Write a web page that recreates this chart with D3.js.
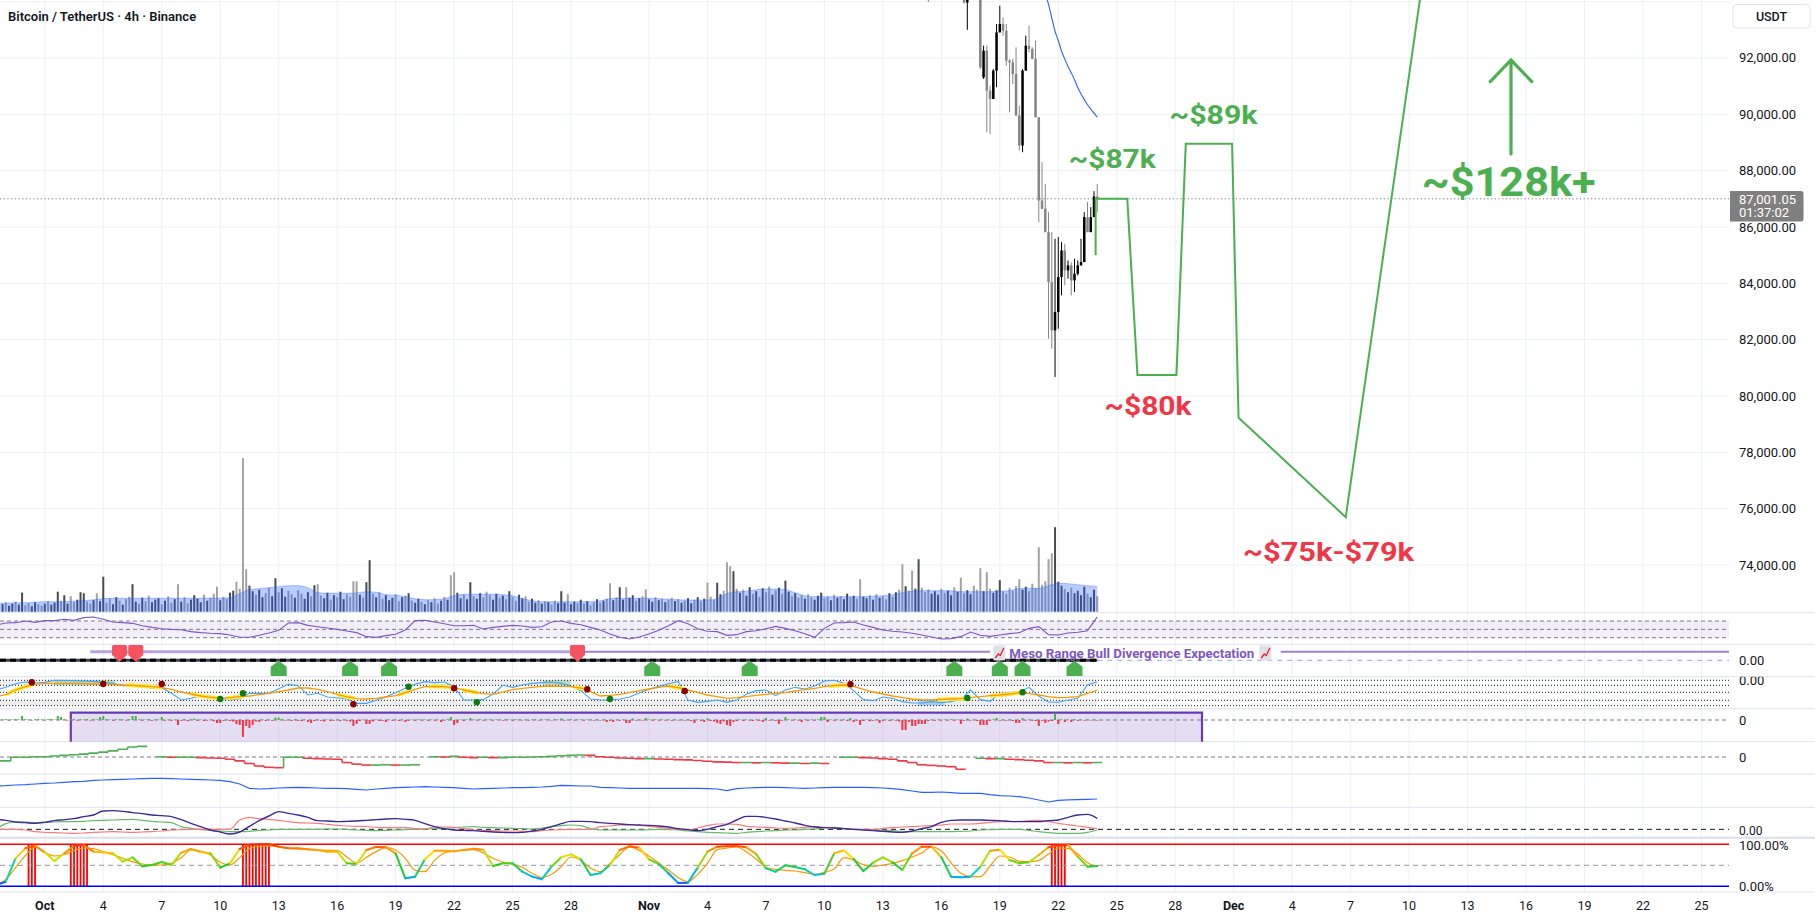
<!DOCTYPE html>
<html><head><meta charset="utf-8">
<script src="https://cdn.jsdelivr.net/npm/d3@7"></script>
<style>
html,body{margin:0;padding:0;background:#fff;overflow:hidden}
svg{display:block;font-family:Roboto,"Noto Sans",sans-serif}
</style></head><body>
<svg id="chart" width="1815" height="919"></svg>
<script>
// ================= DATA =================
const title = "Bitcoin / TetherUS · 4h · Binance";
const quoteUnit = "USDT";
const lastPrice = 87001.05, countdown = "01:37:02";
const priceTicks = [74000,76000,78000,80000,82000,84000,86000,88000,90000,92000];
const tickDates = ["2025-10-01","2025-10-04","2025-10-07","2025-10-10","2025-10-13","2025-10-16","2025-10-19","2025-10-22","2025-10-25","2025-10-28",
  "2025-11-01","2025-11-04","2025-11-07","2025-11-10","2025-11-13","2025-11-16","2025-11-19","2025-11-22","2025-11-25","2025-11-28",
  "2025-12-01","2025-12-04","2025-12-07","2025-12-10","2025-12-13","2025-12-16","2025-12-19","2025-12-22","2025-12-25"];
const tickLabels = ["Oct","4","7","10","13","16","19","22","25","28","Nov","4","7","10","13","16","19","22","25","28","Dec","4","7","10","13","16","19","22","25"];

// 4h candles from 2025-11-15 04:00 UTC to 2025-11-24 00:00 UTC
const candleStart = "2025-11-15T04:00:00Z";
const candleOpen  = [95300,95100,94300,95000,95500,95800,95600,95200,95400,95700,95300,94900,94500,93970,94600,95000,94800,94600,91314,92260,90841,90546,91551,92910,93206,92969,91905,91846,91433,89955,88891,91551,92437,92319,91964,89896,86941,86645,85818,84045,82331,82981,84222,85168,84459,84636,84104,84340,84636,84754,86350,85818,86350,87083];
const candleHigh  = [95800,95400,95200,95700,96000,96200,95900,95600,96000,96100,95600,95300,94700,94800,95300,95400,95000,94800,92437,92437,91019,91610,93206,93856,93442,93206,91964,91964,92378,90310,91610,92792,93146,92378,92614,89896,88300,87532,86527,85818,85582,85641,85463,85404,84813,84754,84872,84813,85582,86527,86882,86705,87272,87530];
const candleLow   = [94900,93990,94150,94800,95100,95300,95000,94700,95100,95000,94600,94300,93930,93000,94200,94500,94300,91610,91255,89364,89305,90546,90960,92910,92792,91728,90073,91078,89955,88714,88655,91551,92201,91964,89896,86173,86645,85818,82036,81681,80676,82390,83572,83927,84163,83572,83690,84281,84636,84754,85818,85818,86350,86525];
const candleClose = [95100,94300,95000,95500,95800,95600,95200,95400,95700,95300,94900,94500,93970,94600,95000,94800,94600,91669,92260,90841,90546,91551,92910,93206,92969,91905,91846,91433,89955,88891,91551,92437,92319,91964,89896,86941,86645,85818,84045,82331,82981,84222,85168,84459,84636,84104,84340,84636,84754,86350,85818,86350,87083,87001];

// blue moving average on price (4h, from 2025-11-21 08:00)
const maStart = "2025-11-21T08:00:00Z";
const maValues = [94300,93900,93420,92950,92620,92250,91960,91700,91470,91230,90950,90720,90530,90340,90190,90040,89900];

// projected path
const projDates  = ["2025-11-23T22:00:00Z","2025-11-23T22:00:00Z","2025-11-25T13:00:00Z","2025-11-26T01:30:00Z","2025-11-28T01:30:00Z","2025-11-28T13:00:00Z","2025-11-30T22:00:00Z","2025-12-01T06:00:00Z","2025-12-06T18:00:00Z","2025-12-17T14:00:00Z"];
const projPrices = [85000,87000,87000,80750,80750,88960,88960,79230,75700,128000];

// annotations
const annText  = ["~$87k","~$89k","~$80k","~$75k-$79k","~$128k+"];
const annDate  = ["2025-11-22T13:00:00Z","2025-11-27T17:00:00Z","2025-11-24T09:00:00Z","2025-12-01T11:30:00Z","2025-12-10T15:30:00Z"];
const annPrice = [88095,89646,79311,74142,87101];
const annColor = ["#4caf50","#4caf50","#f23645","#f23645","#4caf50"];
const annSize  = [25,25,25,25,41];
const annWidth = [87,88,87,171,174];
const arrowDate = "2025-12-15T05:30:00Z", arrowFrom = 88592, arrowTo = 91929;

// 4h volume (thousand BTC) from 2025-09-28 20:00, u = up bar, d = down bar
const barStart = "2025-09-28T20:00:00Z";
const volume = [1.5,1.9,1.2,1.6,2.0,1.4, 3.8,1.3,1.7,1.1,1.9,1.5, 1.2,1.6,2.1,1.4,1.8,4.0, 2.2,3.3,1.6,3.1,1.9,2.4, 3.9,3.7,2.0,1.6,2.3,3.7,
 2.1,7.0,1.8,2.6,1.5,2.9, 2.2,1.4,2.5,3.0,5.5,2.0, 1.6,2.8,2.1,3.2,1.9,2.4, 2.7,1.5,2.2,3.1,1.8,2.5, 5.5,2.0,2.9,1.7,2.4,3.3,
 2.6,1.9,3.4,2.2,2.8,3.6, 5.0,2.3,3.0,2.5,3.8,4.2, 6.0,4.6,30.7,8.5,5.2,4.1, 3.4,4.4,2.9,3.7,4.8,3.1, 6.7,3.9,4.7,3.0,4.2,3.5,
 2.8,4.3,3.6,2.6,3.9,3.1, 5.3,5.5,3.2,2.7,3.8,2.4, 3.3,2.9,4.0,2.5,3.5,3.0, 6.1,6.1,3.4,2.8,5.9,10.3, 3.6,2.9,3.9,2.6,3.3,2.3,
 2.8,3.5,2.1,2.9,3.2,3.7, 2.2,1.8,2.6,2.0,1.5,2.3, 1.9,2.7,1.6,2.2,3.0,2.4, 7.3,7.9,3.8,2.7,3.4,2.5, 5.9,3.1,2.6,3.7,2.9,4.0,
 3.3,2.4,3.6,2.8,3.2,2.5, 4.1,3.0,2.2,3.4,2.7,3.1, 2.0,2.6,1.8,2.3,1.6,2.1, 1.9,1.4,2.2,1.7,4.1,1.8, 3.5,1.5,2.0,1.7,2.4,1.6,
 2.1,1.3,1.9,2.5,1.8,2.2, 2.6,5.7,2.3,2.9,4.9,2.4, 4.9,2.8,3.3,2.2,2.7,3.1, 4.5,2.5,2.0,2.9,2.3,2.6, 1.9,2.4,2.8,2.1,2.5,1.8,
 2.2,2.7,1.7,2.4,2.9,2.1, 2.6,5.8,3.0,2.4,5.8,3.5, 4.2,9.9,9.1,8.1,4.6,3.8, 4.4,3.2,4.9,3.6,4.1,3.0, 4.7,3.9,5.0,3.4,4.3,4.8,
 3.6,6.2,4.0,3.1,3.7,2.8, 3.3,2.6,3.5,2.9,2.4,3.2, 3.8,2.7,3.0,2.3,3.4,2.8, 3.1,2.5,3.6,2.9,3.2,2.6, 6.5,3.0,2.7,3.3,2.4,3.5,
 2.8,3.1,2.5,3.7,3.0,3.9, 4.4,9.5,5.1,4.2,8.2,4.6, 10.5,4.8,3.9,4.5,3.6,4.1, 3.4,4.6,3.8,4.2,3.3,4.9, 4.0,6.8,3.7,4.3,3.5,5.2,
 4.4,8.7,4.1,7.9,4.6,3.8, 4.3,6.3,4.0,3.6,4.8,4.2, 5.1,6.5,4.4,5.0,4.1,5.6, 4.7,12.9,5.4,6.1,10.5,11.7, 16.9,6.0,5.2,4.5,3.9,4.8,
 3.7,4.2,3.3,5.0,3.6,2.9, 4.4,3.1];
const volumeDir = ["uduudu","udduud","duduuu","duuddu","uuddud","uudduu","dudduu","dudduu","ududdu","dudduu","uududd","dudduu","dddduu","duuddu","uduudd","udduud","udduud","uduudd","dduduu","dudduu","uddudu","duudud","uddudu","dduudu","uduudd","duudud","udduud","duudud","udduuu","duudud","uddudu","dduduu","duudud","duudud","uddudu","duudud","uddduu","dddudu","duudud","uddudu","duudud","dudduu","uddudu","duudud","duudud","uddudu","dduddu","uddduu","udduud","udduud","dduddu","uudddd","dduudd","dddddd","uuudud","uuuudu","ud"].join("");

// 12h series from 2025-09-28 12:00
const lineStart = "2025-09-28T12:00:00Z";
const volumeMA = [1.7,1.7,1.8,1.8,1.9,2,2,2,2.1,2.2, 2.4,2.6,2.68,2.68,2.68,2.68,2.7,2.7,2.7,2.68, 2.68,2.68,2.68,2.7,2.8,3.6,4.4,4.6,4.8,5, 5.2,5.2,4.8,3.8,3.7,3.68,3.68,3.76,4,3.9,
 3.4,3.3,3,2.6,2.4,2.4,2.6,3.2,3.48,3.48, 3.48,3.48,3.4,3.2,2.6,2.2,2,2,2,2, 2,2,2.2,2.6,2.68,2.68,2.68,2.68,2.6,2.5, 2.4,2.34,2.34,2.34,2.6,3.6,4,4.1,4.4,4.54,
 4.54,4.4,3.8,3.2,3,3,3,3,3,3, 3.1,3.2,3.4,3.8,4.1,4.2,4.2,4.2,4.2,4, 4,4,4,4.1,4.2,4.6,4.68,4.68,5.2,5.68, 5.6,5.4,5.2,5];
const rsi = [60.4,65.2,66.0,70.0,66.8,70.8,70.8,74.0,71.6,78.0, 79.6,74.0,67.6,66.0,64.4,58.8,54.8,51.6,50.0,49.2, 44.5,42.1,40.5,39.7,36.5,30.9,30.9,35.7,41.3,47.6,
 65.2,66.0,59.6,56.4,53.2,50.0,46.0,42.1,32.5,30.9, 34.9,38.1,48.4,70.8,71.6,67.6,63.6,58.8,58.8,59.6, 50.8,54.8,57.2,59.6,58.0,54.8,56.4,67.6,70.0,64.4,
 61.2,54.8,48.4,38.9,30.9,26.9,31.7,38.9,47.6,58.8, 70.8,63.6,51.6,45.3,44.5,35.7,37.3,44.5,46.8,51.6, 57.2,52.4,46.8,39.7,30.9,52.4,65.2,66.0,67.6,60.4,
 54.8,48.4,45.3,43.7,40.5,36.5,31.7,26.9,27.7,32.5, 43.7,35.7,33.3,36.5,39.7,42.1,52.4,56.4,37.3,36.5, 41.3,42.9,46.8,80.0];
const rsiLevels = [70,50,30];

// signal pane
const mesoSegments = [["2025-10-03T08:00:00Z","2025-10-28T08:00:00Z"],["2025-10-28T08:00:00Z","2025-11-18T12:00:00Z"],["2025-12-03T10:00:00Z","2025-12-26T12:00:00Z"]];
const mesoLabel = "Meso Range Bull Divergence Expectation";
const mesoLabelDate = "2025-11-18T16:00:00Z";
const bearSignals = ["2025-10-04T20:00:00Z","2025-10-05T16:00:00Z","2025-10-28T08:00:00Z"];
const bullSignals = ["2025-10-13T00:00:00Z","2025-10-16T16:00:00Z","2025-10-18T16:00:00Z","2025-11-01T04:00:00Z","2025-11-06T04:00:00Z","2025-11-16T16:00:00Z","2025-11-19T00:00:00Z","2025-11-20T04:00:00Z","2025-11-22T20:00:00Z"];

// oscillator pane (blue fast / orange slow)
const oscLevels = [100,80.3,52.8,21.3,0];
const oscFast = [61.8,72.3,86.7,93.3,89.4,92,99.9,99.9,98.6,97.2, 95.9,92,88,78.9,80.2,77.6,68.4,71,48.7,22.4, 29,39.5,38.2,29,22.4,27.7,48.7,48.7,48.7,67.1,
 84.1,78.9,42.1,48.7,34.3,31.6,26.4,9.3,9.3,21.1, 35.6,51.3,68.4,84.1,94.6,90.7,93.3,74.9,22.4,22.4, 23.8,46.1,80.2,72.3,81.5,88,90.7,93.3,88,77.6,
 59.2,26.4,22.4,22.4,26.4,34.3,50,64.4,76.2,86.7, 95.9,22.4,13.3,17.2,22.4,13.3,22.4,44.8,59.2,61.8, 39.5,61.8,72.3,65.7,77.6,97.2,99.9,88,59.2,23.8,
 19.8,34.3,29,15.9,10.6,10.6,15.9,11.9,15.9,25, 61.8,23.8,17.2,48.7,51.3,55.2,72.3,38.2,14.4,13.3, 22.4,29,81.5,94.6];
const oscSlow = [35.6,43.4,61.8,74.9,84.1,88,88,88,88,86.7, 85.4,85.4,84.1,81.5,80.2,77.6,74.9,71,64.4,53.9, 46.1,38.2,33,29,31.6,35.6,38.2,43.4,48.7,55.2,
 61.8,69.7,69.7,64.4,55.2,44.8,34.3,27.7,26.4,29, 34.3,39.5,51.3,64.4,74.9,76.2,74.9,71,61.8,53.9, 47.4,44.8,53.9,63.1,68.4,72.3,76.2,77.6,76.2,74.9,
 69.7,55.2,38.2,40.8,44.8,51.3,59.2,65.7,72.3,77.6, 71,61.8,52.6,42.1,35.6,29,31.6,35.6,40.8,44.8, 48.7,51.3,57.9,63.1,68.4,74.9,78.9,81.5,76.2,64.4,
 53.9,46.1,38.2,31.6,26.4,23.8,22.4,25,26.4,27.7, 31.6,35.6,39.5,42.1,46.1,51.3,47.4,42.1,35.6,31.6, 33,35.6,48.7,61.8];
const oscHighlight = [["2025-09-29T02:00:00Z","2025-09-30T09:00:00Z"],["2025-10-05T04:00:00Z","2025-10-07T01:00:00Z"],["2025-10-08T12:00:00Z","2025-10-10T00:00:00Z"],["2025-10-10T07:00:00Z","2025-10-11T05:00:00Z"],["2025-10-16T00:00:00Z","2025-10-16T22:00:00Z"],["2025-10-19T03:00:00Z","2025-10-19T17:00:00Z"],["2025-10-20T17:00:00Z","2025-10-22T01:00:00Z"],["2025-10-22T11:00:00Z","2025-10-23T05:00:00Z"],["2025-10-28T04:00:00Z","2025-10-28T22:00:00Z"],["2025-11-02T01:00:00Z","2025-11-02T21:00:00Z"],["2025-11-10T07:00:00Z","2025-11-11T10:00:00Z"],["2025-11-15T19:00:00Z","2025-11-17T06:00:00Z"],["2025-11-18T12:00:00Z","2025-11-20T06:00:00Z"]];
const oscTopFill = [["2025-10-01T11:00:00Z","2025-10-04T14:00:00Z"],["2025-10-26T13:00:00Z","2025-10-27T23:00:00Z"]];
const oscBottomFill = [["2025-11-14T19:00:00Z","2025-11-16T04:00:00Z"]];
const oscBearDots = [["2025-09-30T08:00:00Z",92.1],["2025-10-04T00:00:00Z",85.4],["2025-10-07T00:00:00Z",85.4],["2025-10-16T20:00:00Z",5.5],["2025-10-22T00:00:00Z",68.5],["2025-10-28T20:00:00Z",64.6],["2025-11-02T20:00:00Z",57.9],["2025-11-11T08:00:00Z",84.3]];
const oscBullDots = [["2025-10-10T00:00:00Z",26.4],["2025-10-11T04:00:00Z",48.8],["2025-10-19T16:00:00Z",74.8],["2025-10-23T04:00:00Z",13.4],["2025-10-30T00:00:00Z",26.4],["2025-11-17T08:00:00Z",30.3],["2025-11-20T04:00:00Z",52.8]];

// histogram pane (4h)
const histBox = ["2025-10-02T08:00:00Z","2025-11-29T09:00:00Z"];
const histBoxTop = 7.3;
const hist = [0.5,0.8,-0.5,0.6,1,0.5, 4,0.8,0.5,-0.5,0.7,1, 0.6,-0.4,0.8,1,0.5,4, 3,0.8,-0.5,0.6,0.9,-0.6, 0.7,0.5,1,-0.5,0.8,0.6,
 3,4,0.8,0.5,-0.6,0.7, 1,0.6,-0.5,0.8,4,4, 0.7,-0.6,0.5,0.9,-0.8,0.6, 0.5,3,-0.7,0.6,-1,0.5, -5,-0.8,0.6,-1.2,0.5,1.5,
 -0.8,0.5,-1,-0.6,0.7,-1.2, -3,-3,-0.8,0.5,-1,-1.5, -4,-5,-17,-6,-8,-5, -1.5,-2,0.6,-1,0.5,-0.8, 2.5,2.5,0.8,-0.6,0.5,-1,
 0.6,-0.8,-1.2,0.5,-2,-3, -1,0.6,-0.8,-1.5,0.5,-1, -0.7,0.5,-1.2,0.6,-0.8,-1.5, -6,-4,-1,0.5,-4,-4, -1.5,0.6,-1,-0.8,-2,0.5,
 -0.8,0.6,-1,0.5,-2,-0.7, 0.5,-0.6,0.8,-0.5,0.6,-0.8, 0.6,-0.7,0.5,-2,-0.6,0.8, 3,-5,-3,0.6,-0.8,0.5, 2,0.6,-0.5,0.8,-0.6,0.5,
 0.7,-0.5,0.6,0.5,-0.7,0.8, 0.5,-0.6,0.7,0.5,-0.5,0.6, -0.6,0.5,0.8,-0.5,0.6,0.5, 0.6,-0.5,0.7,0.5,1.5,-0.6, 0.5,0.7,-0.5,0.6,0.5,-0.6,
 0.6,0.5,-0.7,0.5,-0.6,0.5, -2,-0.6,-2,0.5,-0.8,0.5, -3,-3,1.5,-0.6,0.5,-0.7, 2,0.5,-0.6,0.7,-0.5,0.6, -0.6,0.5,-0.8,0.6,-0.5,0.5,
 -0.7,0.5,-1,-3,0.6,-0.8, -2,1.5,-1,-1.5,-3,-4, -1.5,-5,-6,-2,-1,0.5, -0.8,0.6,-0.5,-1,0.5,-0.7, -2,2,-0.6,0.5,-1,-4,
 -0.8,3,0.6,-0.5,0.7,-0.6, -2,0.5,-0.8,0.6,-0.5,0.7, 3,3,-2,0.5,-0.7,0.6, -0.5,0.7,-0.8,2,-2,-0.6, -5,-1,0.5,-1.2,-0.8,0.6,
 -3,-0.8,0.5,-1,0.6,-0.7, -1.5,-10,-10,-2,-6,-6, -4,-4,-4,-1,0.6,-0.8, 0.5,-0.7,0.6,-0.5,0.8,-0.6, 0.5,-4,-0.8,1.5,-0.6,0.5,
 -1,-5,-5,-5,-0.8,0.6, 2,-0.7,0.5,-0.8,0.6,-1, -3,-3,2,-0.6,0.5,-0.8, -1,-6,-0.8,-3,-1.5,-1, 7,-4,0.6,-2,0.5,-2,
 1,-0.8,0.5,-0.7,0.6,-0.5, 0.5,-0.6];

// cumulative step pane (12h, null = reset)
const flow = [-12,-12,-1,-1,1,1,3,5,7,9, 12,15,19,24,31,33,null,1,-1,-1, -1,-2,-3,-4,-7,-12,-20,-28,-32,-33, -1,-1,-4,-5,-6,-7,-17,-22,-25,-25,
 -24,-25,-25,-24,null,1,0,2,-1,-2, -1,-2,-2,-1,-1,0,1,2,4,5, 6,5,1,-1,-3,-4,-5,-5,-6,-7, -8,-9,-11,-13,-15,-16,-17,-17,-18,-17,
 -18,-19,-19,-20,-19,-20,null,-1,-1,-2, -3,-5,-7,-12,-17,-24,-26,-28,-30,-38, null,-4,-5,-5,-7,-8,-10,-12,-17,-17, -18,-17,-18,-17];

// blue line pane (12h)
const trendLine = [64,65,67,68,70,72,73,75,77,78, 81,82,83,84,85,86,87,87,86,85, 84,83,82,81,77,70,57,55,56,58, 59,60,59,58,57,57,56,54,52,55,
 57,59,60,61,62,61,60,59,57,55, 56,57,58,59,59,60,61,63,66,65, 64,64,60,59,58,57,57,57,57,57, 57,57,57,56,55,50,56,58,59,60,
 60,59,58,57,58,59,60,60,60,60, 59,58,56,53,49,45,45,46,44,42, 42,42,38,35,34,32,28,22,16,21, 22,23,24,25];

// DMI pane (12h)
const adx = [32,30.8,28.8,28,27.2,28.4,30.4,31.6,32.8,35.2, 37.2,42,42.4,41.6,40,38.8,37.2,36.4,35.2,31.6, 27.2,23.2,19.2,16.8,14.4,16.8,23.6,30.4,36,41.2,
 39.2,37.2,34.4,30.4,30,29.2,29.6,30,30.8,31.6, 32.4,32.8,32,30.8,26.8,23.2,20.8,19.2,18.8,18.4, 17.6,16.8,16.4,16,16.4,18,20,23.2,26.8,29.6,
 29.6,29.2,28,27.2,26.4,25.6,25.2,24.8,24,22.8, 20.8,19.6,18.4,20,23.2,26,31.2,35.6,35.6,34.4, 32.4,30,27.6,24.8,22.8,22,21.6,20.8,20,19.2,
 18.4,17.6,16.8,16.4,18,20.8,23.2,28.4,30.8,31.2, 31.2,31.2,30.8,30.4,29.6,29.2,29.2,29.2,30.4,31.2, 34.4,37.2,38,33.2];
const diMinus = [20,20,20,19.2,17.2,16.4,16,15.6,15.2,15.6, 16.4,16.8,17.2,16.8,16.4,16.8,17.2,18,19.2,19.6, 20,20,20,20,20,31.2,34.4,32.8,32,30.8,
 29.2,28,27.6,27.2,26,24.8,24,23.6,23.2,22.4, 22,22,22,20.8,20.4,22.8,22.8,22.4,21.2,19.2, 18.8,18.4,18,18,17.6,17.2,18.4,19.2,19.6,20,
 20,20,23.2,24,25.2,25.2,24.8,23.6,22.4,21.2, 20.4,19.2,21.6,24.4,26.4,26.4,26,23.6,22.8,22.4, 21.6,21.2,21.6,22.4,23.2,22.4,21.6,20.8,20,20,
 20,21.2,22,22.8,23.2,24,24.4,25.2,26.4,26.4, 26.4,27.2,28.4,29.2,29.2,29.6,30.4,30.8,29.2,27.2, 25.6,24,22.4,20.8];
const diPlus = [20,26.8,28.8,28.8,28,28.4,28.8,29.2,29.2,29.6, 30.4,30.8,31.2,31.6,32,30.8,29.6,28.8,28,23.2, 21.2,19.6,18.8,18,17.2,17.2,17.6,18.8,19.2,20,
 20,20,20,20,20.4,20.4,20,19.2,18.8,18.4, 18.8,19.2,19.6,20,20.4,20.8,21.2,22,22.8,23.2, 22.4,22,21.6,21.2,20.8,20.4,21.6,23.2,24.4,25.2,
 24.4,21,19.2,19.2,19.2,19.2,19.2,19.6,20,19.6, 19.2,18,17.2,16.4,16,15.6,15.2,16.4,17.2,18, 18.4,19.2,19.2,20,20.4,22,22.4,21.2,20,19.6,
 19.2,18.8,18.4,17.6,17.2,17.2,17.2,17.2,17.2,17.6, 18,19.2,19.6,20,20,20,18.8,17.2,16,15.2, 15.2,15.2,16.4,19.2];
const dmiLevel = 20;

// Stoch RSI pane (12h)
const stochK = [3,11,66.6,90.4,96.7,80.9,60.2,78.5,96.7,98.3, 82.5,80.9,78.5,58.7,69,47.5,50.7,57.9,50.7,80, 88.8,81.7,78.5,44.4,54.7,88.8,99,100,100,94.4,
 90.4,90.4,88,86.4,82.5,82.5,54.7,53.1,86.4,93.6, 92.8,78.5,19,23,64.2,84.8,84.8,83.3,86.4,89.6, 87.2,48.3,54.7,54.7,34.8,23,16.6,46.7,69,76.1,
 64.2,26.9,30.9,50.7,86.4,95.2,92,64.2,53.1,30.9, 7.9,8.7,44.4,82.5,94.4,95.2,96,92.8,76.9,42.8, 34.8,49.9,45.9,40.4,26.9,30.1,78.5,85.6,65,36.4,
 56.3,69,57.1,38.8,78.5,94.4,94.4,69,23,21.4, 23,46.7,84.8,87.2,62.6,54.7,57.1,74.5,92.8,96.7, 98.3,70.6,46.7,48.3];
const stochD = [3,16.6,44.4,72.9,93.6,80.9,72.1,75.3,85.6,91.2, 89.6,82.5,75.3,66.6,58.7,53.1,50.7,50.7,54.7,68.2, 86.4,84,74.5,57.1,50.7,68.2,90.4,95.2,96.7,93.6,
 90.4,88.8,87.2,86.4,85.6,84.8,69.8,55.5,69,82.5, 92,86.4,66.6,38,34.8,61.8,79.3,84,86.4,87.2, 79.3,66.6,57.9,52.3,45.2,30.9,21.4,28.5,46.7,69.8,
 61.8,43.6,34.8,54.7,75.3,93.6,85.6,72.1,55.5,38.8, 20.6,11,28.5,54.7,87.2,91.2,93.6,81.7,65,45.2, 40.4,38,36.4,32.5,28.5,33.3,41.2,68.2,62.6,51.5,
 47.5,50.7,54.7,61,69.8,79.3,93.6,84.8,55.5,30.9, 23,23,48.3,72.1,69.8,59.5,58.7,61.8,76.9,91.2, 90.4,76.9,56.3,46.7];
const stochOB = [["2025-09-30T04:00:00Z","2025-09-30T12:00:00Z"],["2025-10-02T08:00:00Z","2025-10-03T04:00:00Z"],["2025-10-11T04:00:00Z","2025-10-12T12:00:00Z"],["2025-11-21T16:00:00Z","2025-11-22T08:00:00Z"]];

// ================= DRAWING =================
const W = 1815, H = 919, PR = 1729;
const svg = d3.select("#chart");
const defs = svg.append("defs");
const P = {price:[0,612.7], rsi:[612.7,644.3], sig:[644.3,676.7], osc:[676.7,708.7], hist:[708.7,741.7],
           flow:[741.7,774], trend:[774,807.3], dmi:[807.3,837.7], st:[837.7,892]};
const H4 = 4*3600e3, H12 = 12*3600e3;
const D = s => new Date(s);
const t12 = i => new Date(D(lineStart).getTime() + i*H12);
const t4 = j => new Date(D(barStart).getTime() + j*H4);
const tc = n => new Date(D(candleStart).getTime() + n*H4);

const x = d3.scaleUtc().domain([D("2025-10-01T00:00:00Z"), D("2025-12-25T00:00:00Z")]).range([44.8, 44.8 + 85*19.49]);
const yP = d3.scaleLinear().domain([72307, 94059]).range([612.7, 0]);

function clip(id, pane, x1 = PR, x0 = 0) {
  defs.append("clipPath").attr("id", id).append("rect")
    .attr("x", x0).attr("y", P[pane][0]).attr("width", x1 - x0).attr("height", P[pane][1] - P[pane][0]);
  return "url(#" + id + ")";
}
Object.keys(P).forEach(k => clip("c-" + k, k));
const layer = k => svg.append("g").attr("clip-path", "url(#c-" + k + ")");

// background grid
const grid = svg.append("g");
tickDates.forEach(d => {
  const xx = x(D(d + "T00:00:00Z"));
  grid.append("line").attr("x1", xx).attr("x2", xx).attr("y1", 0).attr("y2", 892).attr("stroke", "#eef0f5").attr("stroke-width", 1);
});
priceTicks.concat([94000]).forEach(p => {
  grid.append("line").attr("x1", 0).attr("x2", PR).attr("y1", yP(p)).attr("y2", yP(p)).attr("stroke", "#eef0f5");
});

// separators
[612.7, 644.3, 676.7, 708.7, 741.7, 774, 807.3, 837.7, 892].forEach((yy, i) => {
  svg.append("line").attr("x1", 0).attr("x2", W).attr("y1", yy).attr("y2", yy)
    .attr("stroke", "#e0e3eb").attr("stroke-width", i === 7 ? 2.5 : 1);
});

// ---------- price pane ----------
const gp = layer("price");
const yV = d3.scaleLinear().domain([0, 31]).range([611.7, 611.7 - 155]);
volume.forEach((v, j) => {
  const xx = x(t4(j));
  gp.append("rect").attr("x", xx - 1).attr("width", 2).attr("y", yV(v)).attr("height", yV(0) - yV(v))
    .attr("fill", volumeDir[j] === "d" ? "#a3a3a3" : "#474a55");
});
const volArea = d3.area().x((d, i) => x(t12(i))).y0(yV(0)).y1(d => yV(d)).curve(d3.curveMonotoneX);
gp.append("path").attr("d", volArea(volumeMA)).attr("fill", "rgba(41,98,255,0.32)");
gp.append("path").attr("d", d3.line().x((d, i) => x(t12(i))).y(d => yV(d)).curve(d3.curveMonotoneX)(volumeMA))
  .attr("fill", "none").attr("stroke", "rgba(41,98,255,0.35)").attr("stroke-width", 1);

gp.append("line").attr("x1", 0).attr("x2", PR).attr("y1", yP(lastPrice)).attr("y2", yP(lastPrice))
  .attr("stroke", "#787b86").attr("stroke-dasharray", "1.2,2.5").attr("stroke-width", 1);

candleOpen.forEach((o, n) => {
  const c = candleClose[n], h = candleHigh[n], l = candleLow[n];
  const xx = x(tc(n));
  const col = c >= o ? "#000000" : "#858585";
  gp.append("line").attr("x1", xx).attr("x2", xx).attr("y1", yP(h)).attr("y2", yP(l)).attr("stroke", col).attr("stroke-width", 1);
  const top = yP(Math.max(o, c)), bot = yP(Math.min(o, c));
  gp.append("rect").attr("x", xx - 1.25).attr("width", 2.5).attr("y", top).attr("height", Math.max(1, bot - top)).attr("fill", col);
});
gp.append("path").attr("d", d3.line().x((d, i) => x(new Date(D(maStart).getTime() + i*H4))).y(d => yP(d)).curve(d3.curveMonotoneX)(maValues))
  .attr("fill", "none").attr("stroke", "#2962ff").attr("stroke-width", 1.1);

gp.append("path").attr("d", d3.line().x(d => x(D(d[0]))).y(d => yP(d[1]))(projDates.map((d, i) => [d, projPrices[i]])))
  .attr("fill", "none").attr("stroke", "#4caf50").attr("stroke-width", 2).attr("stroke-linejoin", "miter");

annText.forEach((t, i) => {
  gp.append("text").attr("x", x(D(annDate[i]))).attr("y", yP(annPrice[i])).text(t)
    .attr("fill", annColor[i]).attr("font-size", annSize[i]).attr("font-weight", 700)
    .attr("textLength", annWidth[i]).attr("lengthAdjust", "spacingAndGlyphs");
});
{
  const ax = x(D(arrowDate)), y0 = yP(arrowFrom), y1 = yP(arrowTo);
  gp.append("path").attr("d", `M${ax},${y0}L${ax},${y1}M${ax - 20.8},${y1 + 21.7}L${ax},${y1}L${ax + 20.8},${y1 + 21.7}`)
    .attr("fill", "none").attr("stroke", "#4caf50").attr("stroke-width", 3.2).attr("stroke-linecap", "round").attr("stroke-linejoin", "miter");
}

// ---------- RSI pane ----------
const g2 = layer("rsi");
const yR = d3.scaleLinear().domain([30, 70]).range([637.7, 621]);
g2.append("rect").attr("x", 0).attr("width", PR).attr("y", yR(70)).attr("height", yR(30) - yR(70)).attr("fill", "rgba(126,87,194,0.1)");
rsiLevels.forEach(l => g2.append("line").attr("x1", 0).attr("x2", PR).attr("y1", yR(l)).attr("y2", yR(l))
  .attr("stroke", "#787b86").attr("stroke-dasharray", "4,3").attr("stroke-width", 1));
g2.append("path").attr("d", d3.line().x((d, i) => x(t12(i))).y(d => yR(d))(rsi))
  .attr("fill", "none").attr("stroke", "#7e57c2").attr("stroke-width", 1.1);

// ---------- signal pane ----------
const g3 = layer("sig");
const ySigLine = 651.7, ySigBase = 660.3;
mesoSegments.forEach((s, i) => {
  g3.append("line").attr("x1", x(D(s[0]))).attr("x2", Math.min(PR, x(D(s[1])))).attr("y1", ySigLine).attr("y2", ySigLine)
    .attr("stroke", i === 0 ? "#b7a3e2" : "#9b7fd8").attr("stroke-width", i === 0 ? 3 : 2);
});
const lastBarX = x(tc(candleOpen.length - 1));
g3.append("line").attr("x1", lastBarX).attr("x2", PR).attr("y1", ySigBase).attr("y2", ySigBase)
  .attr("stroke", "#8ea6f3").attr("stroke-dasharray", "5,5").attr("stroke-width", 1);
g3.append("line").attr("x1", 0).attr("x2", lastBarX).attr("y1", ySigBase).attr("y2", ySigBase)
  .attr("stroke", "#3a3f52").attr("stroke-width", 3);
g3.append("line").attr("x1", 0).attr("x2", lastBarX).attr("y1", ySigBase).attr("y2", ySigBase)
  .attr("stroke", "#000").attr("stroke-width", 3).attr("stroke-dasharray", "6,4");
bearSignals.forEach(d => {
  const xx = x(D(d)), t = 645;
  g3.append("path").attr("d", `M${xx - 7.5},${t + 1.5}Q${xx - 7.5},${t} ${xx - 6},${t}L${xx + 6},${t}Q${xx + 7.5},${t} ${xx + 7.5},${t + 1.5}L${xx + 7.5},${t + 10}L${xx},${t + 16.7}L${xx - 7.5},${t + 10}Z`)
    .attr("fill", "#f7525f");
});
bullSignals.forEach(d => {
  const xx = x(D(d)), b = 676;
  g3.append("path").attr("d", `M${xx - 8},${b}L${xx - 8},${b - 9.3}L${xx},${b - 15.3}L${xx + 8},${b - 9.3}L${xx + 8},${b}Z`)
    .attr("fill", "#4caf50");
});
{
  const lx = x(D(mesoLabelDate));
  const icon = (ix) => {
    g3.append("rect").attr("x", ix).attr("y", 645.5).attr("width", 12).attr("height", 15).attr("rx", 1.5).attr("fill", "#dfe1e6");
    g3.append("path").attr("d", `M${ix + 2},${658}L${ix + 5},${654}L${ix + 7},${655.5}L${ix + 10.5},${648}`)
      .attr("fill", "none").attr("stroke", "#e0263a").attr("stroke-width", 1.4);
  };
  icon(lx);
  g3.append("text").attr("x", lx + 16).attr("y", 652.5).attr("dominant-baseline", "central").text(mesoLabel)
    .attr("fill", "#7e57c2").attr("font-size", 13.5).attr("font-weight", 700)
    .attr("textLength", 245).attr("lengthAdjust", "spacingAndGlyphs");
  icon(lx + 266);
}

// ---------- oscillator pane ----------
const g4 = layer("osc");
const yO = d3.scaleLinear().domain([0, 100]).range([705.7, 680.3]);
g4.append("rect").attr("x", 0).attr("width", lastBarX).attr("y", yO(100)).attr("height", yO(80.3) - yO(100)).attr("fill", "rgba(200,200,200,0.3)");
g4.append("rect").attr("x", 0).attr("width", lastBarX).attr("y", yO(21.3)).attr("height", yO(0) - yO(21.3)).attr("fill", "rgba(200,200,200,0.3)");
oscTopFill.forEach(s => g4.append("rect").attr("x", x(D(s[0]))).attr("width", x(D(s[1])) - x(D(s[0]))).attr("y", yO(100)).attr("height", yO(80.3) - yO(100)).attr("fill", "rgba(76,175,80,0.35)"));
oscBottomFill.forEach(s => g4.append("rect").attr("x", x(D(s[0]))).attr("width", x(D(s[1])) - x(D(s[0]))).attr("y", yO(21.3)).attr("height", yO(0) - yO(21.3)).attr("fill", "rgba(33,150,243,0.35)"));
oscLevels.forEach(l => g4.append("line").attr("x1", 0).attr("x2", PR).attr("y1", yO(l)).attr("y2", yO(l))
  .attr("stroke", "#131722").attr("stroke-dasharray", "1,2").attr("stroke-width", 1));
const oscLine = d3.line().x((d, i) => x(t12(i))).y(d => yO(d));
g4.append("path").attr("d", oscLine(oscFast)).attr("fill", "none").attr("stroke", "#42a5f5").attr("stroke-width", 1.1);
{
  const cp = defs.append("clipPath").attr("id", "c-hl");
  oscHighlight.forEach(s => cp.append("rect").attr("x", x(D(s[0]))).attr("width", x(D(s[1])) - x(D(s[0]))).attr("y", P.osc[0]).attr("height", P.osc[1] - P.osc[0]));
  g4.append("path").attr("d", oscLine(oscSlow)).attr("clip-path", "url(#c-hl)").attr("fill", "none")
    .attr("stroke", "#ffeb3b").attr("stroke-width", 4);
}
g4.append("path").attr("d", oscLine(oscSlow)).attr("fill", "none").attr("stroke", "#ff9800").attr("stroke-width", 1.3);
oscBearDots.forEach(d => g4.append("circle").attr("cx", x(D(d[0]))).attr("cy", yO(d[1])).attr("r", 3.2).attr("fill", "#8b0000"));
oscBullDots.forEach(d => g4.append("circle").attr("cx", x(D(d[0]))).attr("cy", yO(d[1])).attr("r", 3.2).attr("fill", "#0f7a0f"));

// ---------- histogram pane ----------
const g5 = layer("hist");
const yH = d3.scaleLinear().domain([-21.7, 11.3]).range([741.7, 708.7]);
{
  const bx0 = x(D(histBox[0])), bx1 = x(D(histBox[1])), by = yH(histBoxTop);
  g5.append("rect").attr("x", bx0).attr("width", bx1 - bx0).attr("y", by).attr("height", 745 - by).attr("fill", "rgba(103,58,183,0.17)");
  g5.append("path").attr("d", `M${bx0},745L${bx0},${by}L${bx1},${by}L${bx1},745`).attr("fill", "none").attr("stroke", "#673ab7").attr("stroke-width", 2.2);
}
g5.append("line").attr("x1", 0).attr("x2", PR).attr("y1", yH(0)).attr("y2", yH(0)).attr("stroke", "#787b86").attr("stroke-dasharray", "4,3");
hist.forEach((v, j) => {
  const xx = x(t4(j));
  g5.append("rect").attr("x", xx - 1).attr("width", 2).attr("y", Math.min(yH(v), yH(0))).attr("height", Math.abs(yH(v) - yH(0)))
    .attr("fill", v >= 0 ? "#4caf50" : "#f23645");
});

// ---------- flow pane ----------
const g6 = layer("flow");
const yF = d3.scaleLinear().domain([-52, 52]).range([773.8, 740.2]);
g6.append("line").attr("x1", 0).attr("x2", PR).attr("y1", yF(0)).attr("y2", yF(0)).attr("stroke", "#787b86").attr("stroke-dasharray", "4,3");
{
  const half = (x(t12(1)) - x(t12(0))) / 2;
  flow.forEach((v, i) => {
    if (v == null) return;
    const prev = i > 0 ? flow[i - 1] : null;
    const col = (prev == null || v >= prev) ? "#4caf50" : "#f23645";
    const xx = x(t12(i));
    g6.append("line").attr("x1", xx - half).attr("x2", xx + half).attr("y1", yF(v)).attr("y2", yF(v)).attr("stroke", col).attr("stroke-width", 1.6);
    if (prev != null) g6.append("line").attr("x1", xx - half).attr("x2", xx - half).attr("y1", yF(prev)).attr("y2", yF(v)).attr("stroke", col).attr("stroke-width", 1.6);
  });
}

// ---------- trend pane ----------
const g7 = layer("trend");
const yT = d3.scaleLinear().domain([0, 100]).range([807.3, 774]);
g7.append("path").attr("d", d3.line().x((d, i) => x(t12(i))).y(d => yT(d))(trendLine))
  .attr("fill", "none").attr("stroke", "#2962ff").attr("stroke-width", 1.2);

// ---------- DMI pane ----------
const g8 = layer("dmi");
const yD = d3.scaleLinear().domain([20, 40]).range([829.33, 812.67]);
g8.append("line").attr("x1", 0).attr("x2", PR).attr("y1", yD(dmiLevel)).attr("y2", yD(dmiLevel)).attr("stroke", "#131722").attr("stroke-dasharray", "5,4");
const dl = d3.line().x((d, i) => x(t12(i))).y(d => yD(d)).curve(d3.curveMonotoneX);
g8.append("path").attr("d", dl(diPlus)).attr("fill", "none").attr("stroke", "#66bb6a").attr("stroke-width", 1.2);
g8.append("path").attr("d", dl(diMinus)).attr("fill", "none").attr("stroke", "#f77c80").attr("stroke-width", 1.2);
g8.append("path").attr("d", dl(adx)).attr("fill", "none").attr("stroke", "#3c2a98").attr("stroke-width", 1.4);

// ---------- Stoch RSI pane ----------
const g9 = layer("st");
const yS = d3.scaleLinear().domain([0, 100]).range([886.3, 844.3]);
stochOB.forEach(s => {
  d3.utcHour.every(4).range(D(s[0]), new Date(D(s[1]).getTime() + 1)).forEach(t => {
    const xx = x(t);
    g9.append("rect").attr("x", xx - 0.9).attr("width", 1.8).attr("y", yS(100)).attr("height", yS(0) - yS(100)).attr("fill", "#ff0000");
  });
});
g9.append("line").attr("x1", 0).attr("x2", PR).attr("y1", yS(50)).attr("y2", yS(50)).attr("stroke", "#9598a1").attr("stroke-dasharray", "5,4");
g9.append("line").attr("x1", 0).attr("x2", PR).attr("y1", yS(100)).attr("y2", yS(100)).attr("stroke", "#ff0000").attr("stroke-width", 1.4);
g9.append("line").attr("x1", 0).attr("x2", PR).attr("y1", yS(0)).attr("y2", yS(0)).attr("stroke", "#0000ff").attr("stroke-width", 1.4);
g9.append("path").attr("d", d3.line().x((d, i) => x(t12(i))).y(d => yS(d)).curve(d3.curveMonotoneX)(stochD))
  .attr("fill", "none").attr("stroke", "#ff9800").attr("stroke-width", 1.2);
const kColor = d3.scaleLinear().domain([0, 20, 35, 50, 65, 75, 88, 100])
  .range(["#1030ff", "#00a0ff", "#00d8c0", "#22cc22", "#a8e000", "#ffe000", "#ff9000", "#ff2000"]).clamp(true);
for (let i = 1; i < stochK.length; i++) {
  g9.append("line").attr("x1", x(t12(i - 1))).attr("x2", x(t12(i))).attr("y1", yS(stochK[i - 1])).attr("y2", yS(stochK[i]))
    .attr("stroke", kColor((stochK[i - 1] + stochK[i]) / 2)).attr("stroke-width", 2).attr("stroke-linecap", "round");
}

// ---------- right axis ----------
const ax = svg.append("g").attr("font-size", 13).attr("fill", "#131722");
priceTicks.forEach(p => ax.append("text").attr("x", 1739).attr("y", yP(p)).attr("dominant-baseline", "central").text(d3.format(",.2f")(p)));
const axLabel = (pane, yy, t, fs) => {
  const id = "ax-" + pane + String(Math.round(yy));
  clip(id, pane, W, PR);
  ax.append("text").attr("clip-path", "url(#" + id + ")").attr("x", 1739).attr("y", yy).attr("dominant-baseline", "central")
    .attr("font-size", fs || 13).text(t);
};
axLabel("sig", 660.5, "0.00");
axLabel("osc", 680.5, "0.00");
axLabel("hist", yH(0), "0");
axLabel("flow", yF(0), "0");
axLabel("dmi", 831, "0.00", 12);
axLabel("st", yS(100) + 1, "100.00%");
axLabel("st", yS(0), "0.00%");
{
  const g = svg.append("g");
  g.append("path").attr("d", "M1730,191L1801,191Q1803.5,191 1803.5,193.5L1803.5,219Q1803.5,221.5 1801,221.5L1730,221.5Z").attr("fill", "#7f7f7f");
  g.append("text").attr("x", 1739).attr("y", 199.5).attr("dominant-baseline", "central").attr("fill", "#fff").attr("font-size", 13).text(d3.format(",.2f")(lastPrice));
  g.append("text").attr("x", 1739).attr("y", 212.5).attr("dominant-baseline", "central").attr("fill", "#fff").attr("font-size", 13).text(countdown);
}
svg.append("rect").attr("x", 1733).attr("y", 4.5).attr("width", 77).attr("height", 23.5).attr("rx", 4).attr("fill", "#fff").attr("stroke", "#e0e3eb");
svg.append("text").attr("x", 1771.5).attr("y", 16.5).attr("text-anchor", "middle").attr("dominant-baseline", "central")
  .attr("font-size", 12.5).attr("font-weight", 500).attr("fill", "#131722").text(quoteUnit);

// ---------- time axis ----------
tickDates.forEach((d, i) => {
  const isMonth = isNaN(+tickLabels[i]);
  svg.append("text").attr("x", x(D(d + "T00:00:00Z"))).attr("y", 905.7).attr("text-anchor", "middle").attr("dominant-baseline", "central")
    .attr("font-size", 12.5).attr("font-weight", isMonth ? 700 : 400).attr("fill", "#131722").text(tickLabels[i]);
});

svg.append("text").attr("x", 8).attr("y", 16.5).attr("dominant-baseline", "central").attr("font-size", 13).attr("font-weight", 600)
  .attr("fill", "#131722").text(title);
</script>
</body></html>
